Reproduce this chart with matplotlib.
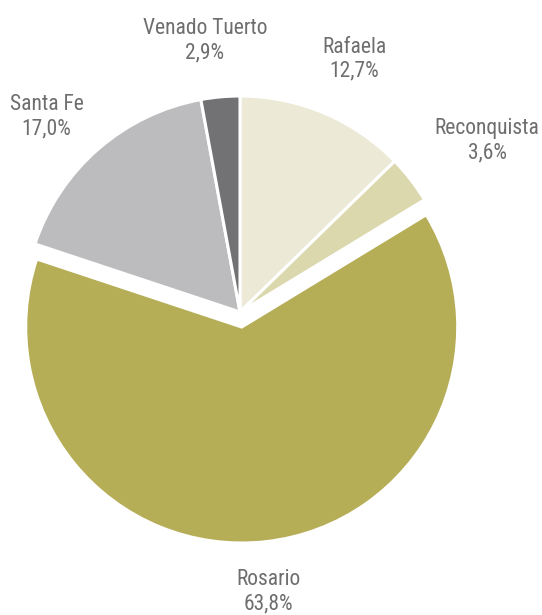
import matplotlib
matplotlib.use("Agg")
import numpy as np
import matplotlib.pyplot as plt
from matplotlib import font_manager

# data, clockwise from 12 o'clock
cities = ["Rafaela", "Reconquista", "Rosario", "Santa Fe", "Venado Tuerto"]
shares = [12.7, 3.6, 63.8, 17.0, 2.9]
colors = ["#ECE9D6", "#DCD8AE", "#B6AD57", "#BCBCBE", "#727274"]
explode = [0, 0, 0.07, 0, 0]
label_dist = [1.29, 1.39, 1.22, 1.28, 1.28]
# small nudges of each label, in pixels
label_nudge = [(6, -4), (10, -13), (-3, -3), (-12, -13), (-10, -4)]

names = {f.name for f in font_manager.fontManager.ttflist}
family = [f for f in ["Roboto Condensed", "Liberation Sans Narrow", "Roboto"] if f in names]
family.append("DejaVu Sans")
plt.rcParams["font.family"] = family

fig = plt.figure(figsize=(5.42, 6.15), dpi=100)
ax = fig.add_axes([0, 0, 1, 1])

wedges, _ = ax.pie(shares, colors=colors, explode=explode, startangle=90,
                   counterclock=False, radius=1.0,
                   wedgeprops=dict(edgecolor="white", linewidth=2.2))

# pie center at (240, 312) px, radius 216 px
R = 216.0
cx, cy = 240.0, 312.0
ax.set_xlim(-cx / R, (542 - cx) / R)
ax.set_ylim(-(615 - cy) / R, cy / R)
ax.set_aspect("equal")
ax.axis("off")

for w, name, val, d, nudge in zip(wedges, cities, shares, label_dist, label_nudge):
    mid = np.deg2rad((w.theta1 + w.theta2) / 2)
    x0, y0 = w.center
    x = x0 + d * np.cos(mid)
    y = y0 + d * np.sin(mid)
    txt = name + "\n" + f"{val:.1f}".replace(".", ",") + "%"
    ax.annotate(txt, (x, y), xytext=nudge, textcoords="offset pixels",
                ha="center", va="center", fontsize=15.5,
                color="#6E6E6E", linespacing=1.2)

fig.savefig("out.png", dpi=100, facecolor="white")
